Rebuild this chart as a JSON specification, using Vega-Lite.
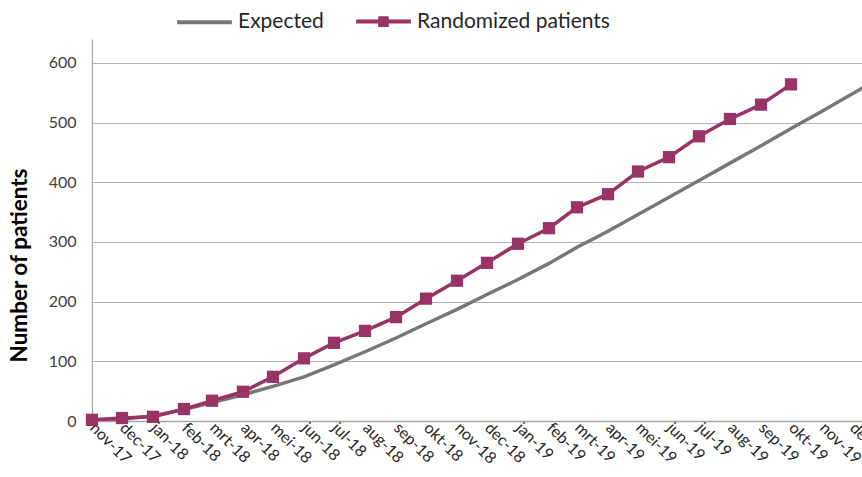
{
  "$schema": "https://vega.github.io/schema/vega-lite/v6.json",
  "width": 770,
  "height": 382,
  "autosize": {"type": "none"},
  "padding": {"left": 92, "top": 39, "right": 0, "bottom": 56},
  "background": "white",
  "config": {
    "view": {"stroke": null},
    "font": "Lato",
    "locale": {
      "time": {
        "dateTime": "%a %e %B %Y %X",
        "date": "%d-%m-%Y",
        "time": "%H:%M:%S",
        "periods": ["AM", "PM"],
        "days": ["zondag", "maandag", "dinsdag", "woensdag", "donderdag", "vrijdag", "zaterdag"],
        "shortDays": ["zo", "ma", "di", "wo", "do", "vr", "za"],
        "months": ["januari", "februari", "maart", "april", "mei", "juni", "juli", "augustus", "september", "oktober", "november", "december"],
        "shortMonths": ["jan", "feb", "mrt", "apr", "mei", "jun", "jul", "aug", "sep", "okt", "nov", "dec"]
      }
    }
  },
  "data": {
    "values": [
      {"month": "2017-11-01", "series": "Expected", "patients": 0},
      {"month": "2017-12-01", "series": "Expected", "patients": 3},
      {"month": "2018-01-01", "series": "Expected", "patients": 9},
      {"month": "2018-02-01", "series": "Expected", "patients": 19},
      {"month": "2018-03-01", "series": "Expected", "patients": 31},
      {"month": "2018-04-01", "series": "Expected", "patients": 44},
      {"month": "2018-05-01", "series": "Expected", "patients": 58},
      {"month": "2018-06-01", "series": "Expected", "patients": 74},
      {"month": "2018-07-01", "series": "Expected", "patients": 94},
      {"month": "2018-08-01", "series": "Expected", "patients": 116},
      {"month": "2018-09-01", "series": "Expected", "patients": 139},
      {"month": "2018-10-01", "series": "Expected", "patients": 163},
      {"month": "2018-11-01", "series": "Expected", "patients": 187},
      {"month": "2018-12-01", "series": "Expected", "patients": 212},
      {"month": "2019-01-01", "series": "Expected", "patients": 237},
      {"month": "2019-02-01", "series": "Expected", "patients": 264},
      {"month": "2019-03-01", "series": "Expected", "patients": 291},
      {"month": "2019-04-01", "series": "Expected", "patients": 318},
      {"month": "2019-05-01", "series": "Expected", "patients": 346},
      {"month": "2019-06-01", "series": "Expected", "patients": 375},
      {"month": "2019-07-01", "series": "Expected", "patients": 403},
      {"month": "2019-08-01", "series": "Expected", "patients": 432},
      {"month": "2019-09-01", "series": "Expected", "patients": 461},
      {"month": "2019-10-01", "series": "Expected", "patients": 490},
      {"month": "2019-11-01", "series": "Expected", "patients": 519},
      {"month": "2019-12-01", "series": "Expected", "patients": 548},
      {"month": "2020-01-01", "series": "Expected", "patients": 577},
      {"month": "2017-11-01", "series": "Randomized patients", "patients": 2},
      {"month": "2017-12-01", "series": "Randomized patients", "patients": 5},
      {"month": "2018-01-01", "series": "Randomized patients", "patients": 7},
      {"month": "2018-02-01", "series": "Randomized patients", "patients": 20},
      {"month": "2018-03-01", "series": "Randomized patients", "patients": 34},
      {"month": "2018-04-01", "series": "Randomized patients", "patients": 49},
      {"month": "2018-05-01", "series": "Randomized patients", "patients": 74},
      {"month": "2018-06-01", "series": "Randomized patients", "patients": 105},
      {"month": "2018-07-01", "series": "Randomized patients", "patients": 131},
      {"month": "2018-08-01", "series": "Randomized patients", "patients": 151},
      {"month": "2018-09-01", "series": "Randomized patients", "patients": 174},
      {"month": "2018-10-01", "series": "Randomized patients", "patients": 205},
      {"month": "2018-11-01", "series": "Randomized patients", "patients": 235},
      {"month": "2018-12-01", "series": "Randomized patients", "patients": 265},
      {"month": "2019-01-01", "series": "Randomized patients", "patients": 297},
      {"month": "2019-02-01", "series": "Randomized patients", "patients": 323},
      {"month": "2019-03-01", "series": "Randomized patients", "patients": 358},
      {"month": "2019-04-01", "series": "Randomized patients", "patients": 380},
      {"month": "2019-05-01", "series": "Randomized patients", "patients": 418},
      {"month": "2019-06-01", "series": "Randomized patients", "patients": 442},
      {"month": "2019-07-01", "series": "Randomized patients", "patients": 477},
      {"month": "2019-08-01", "series": "Randomized patients", "patients": 506},
      {"month": "2019-09-01", "series": "Randomized patients", "patients": 530},
      {"month": "2019-10-01", "series": "Randomized patients", "patients": 564}
    ]
  },
  "encoding": {
    "x": {
      "field": "month",
      "type": "temporal",
      "scale": {"type": "utc", "domain": ["2017-11-01", "2019-12-11"], "nice": false},
      "axis": {
        "title": null,
        "labelExpr": "utcFormat(datum.value, '%b-%y')",
        "tickCount": {"interval": "month", "step": 1},
        "labelAngle": 45,
        "labelAlign": "left",
        "labelBaseline": "middle",
        "labelOverlap": false,
        "labelBound": false,
        "labelFlush": false,
        "labelFontSize": 16,
        "labelColor": "#262626",
        "labelPadding": 4,
        "ticks": false,
        "grid": false,
        "domainColor": "#a6a6a6",
        "domainWidth": 1.5
      }
    },
    "y": {
      "field": "patients",
      "type": "quantitative",
      "scale": {"domain": [0, 640], "nice": false},
      "axis": {
        "title": "Number of patients",
        "titleFontSize": 22.5,
        "titleFontWeight": "bold",
        "titleColor": "#000000",
        "titlePadding": 17,
        "titleY": 226,
        "values": [0, 100, 200, 300, 400, 500, 600],
        "labelFontSize": 16,
        "labelColor": "#404040",
        "labelPadding": 16,
        "ticks": false,
        "grid": true,
        "gridColor": "#b3b3b3",
        "gridWidth": 1.2,
        "domainColor": "#a6a6a6",
        "domainWidth": 1.2
      }
    },
    "color": {
      "field": "series",
      "type": "nominal",
      "scale": {"domain": ["Expected", "Randomized patients"], "range": ["#777777", "#993366"]},
      "legend": {
        "title": null,
        "orient": "none",
        "direction": "horizontal",
        "legendX": 83,
        "legendY": -47,
        "labelFontSize": 21,
        "labelLimit": 400,
        "labelColor": "#262626",
        "symbolSize": 3000,
        "symbolStrokeWidth": 4,
        "labelOffset": 4,
        "columnPadding": 24,
        "symbolType": "stroke",
        "encode": {
          "symbols": {
            "update": {
              "shape": {"signal": "datum.label == 'Expected' ? 'stroke' : 'M-1,0H1M-0.12,-0.12H0.12V0.12H-0.12Z'"},
              "fill": {"signal": "datum.label == 'Expected' ? 'transparent' : '#993366'"},
              "fillOpacity": {"value": 1}
            }
          }
        }
      }
    }
  },
  "layer": [
    {
      "mark": {"type": "line", "clip": true, "strokeWidth": 3.5}
    },
    {
      "transform": [{"filter": "datum.series == 'Randomized patients'"}],
      "mark": {"type": "point", "shape": "square", "filled": true, "size": 150, "opacity": 1}
    }
  ]
}
